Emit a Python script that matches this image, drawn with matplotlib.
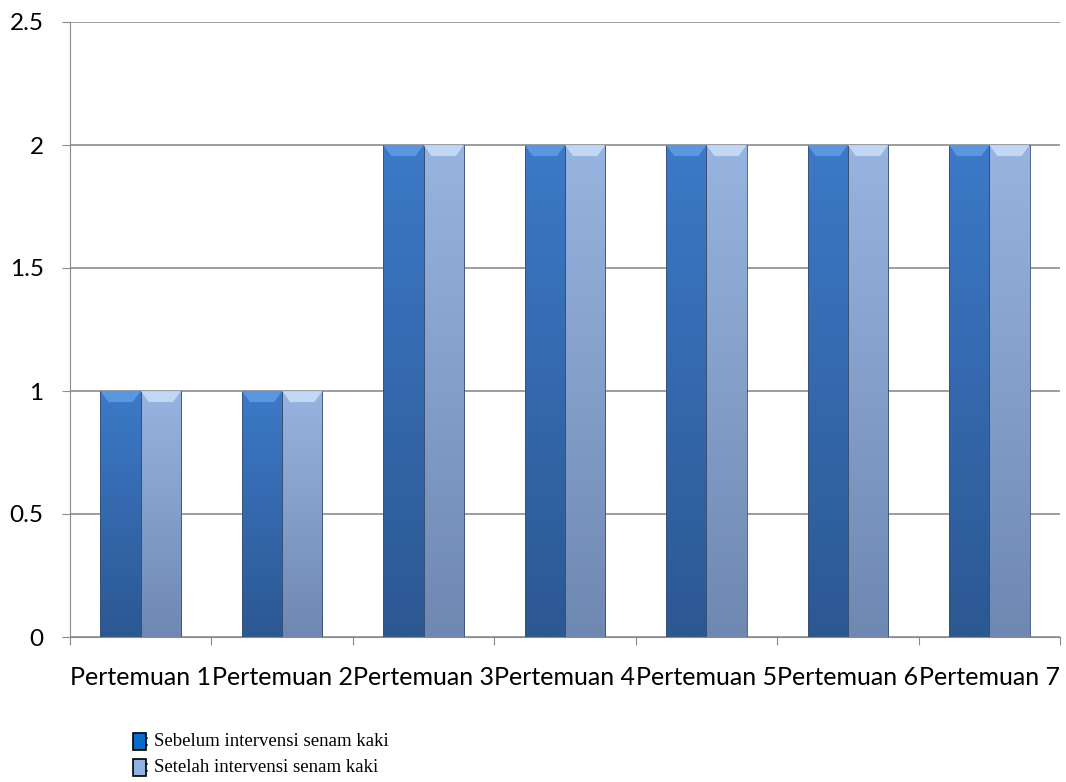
import numpy as np
import matplotlib.pyplot as plt
from matplotlib.patches import Rectangle, Polygon
from matplotlib.colors import LinearSegmentedColormap

categories = ["Pertemuan 1", "Pertemuan 2", "Pertemuan 3", "Pertemuan 4",
              "Pertemuan 5", "Pertemuan 6", "Pertemuan 7"]
sebelum = [1, 1, 2, 2, 2, 2, 2]
setelah = [1, 1, 2, 2, 2, 2, 2]
legend_labels = [": Sebelum intervensi senam kaki", ": Setelah intervensi senam kaki"]

fig = plt.figure(figsize=(10.66, 7.82), dpi=100)
ax = fig.add_axes([70/1066, 1-637/782, (1060-70)/1066, (637-22)/782])

x = np.arange(len(categories))
w = 0.285

# top colour, bottom colour, bevel colour
styles = [("#3C79C8", "#2C5892", "#5F9BE2"),
          ("#97B4E0", "#6E88B2", "#C8DCF6")]

def grad_bar(xc, h, c_top, c_bot, c_bev):
    cmap = LinearSegmentedColormap.from_list("g", [c_bot, c_top])
    rect = Rectangle((xc - w/2, 0), w, h, facecolor="none",
                     edgecolor="#3a4f70", linewidth=0.6, zorder=3)
    ax.add_patch(rect)
    grad = np.linspace(0, 1, 256).reshape(-1, 1)
    im = ax.imshow(grad, extent=(xc - w/2, xc + w/2, 0, h), origin="lower",
                   cmap=cmap, aspect="auto", zorder=2)
    im.set_clip_path(rect)
    # bevel on top
    d = 0.045
    bev = Polygon([(xc - w/2, h), (xc + w/2, h), (xc + w/2 - w*0.2, h - d),
                   (xc - w/2 + w*0.2, h - d)], closed=True,
                  facecolor=c_bev, edgecolor="none", alpha=0.9, zorder=3)
    ax.add_patch(bev)

for i in range(len(categories)):
    grad_bar(x[i] - w/2, sebelum[i], *styles[0])
    grad_bar(x[i] + w/2, setelah[i], *styles[1])

ax.set_xlim(-0.5, len(categories) - 0.5)
ax.set_ylim(0, 2.5)
ax.set_yticks([0, 0.5, 1, 1.5, 2, 2.5])
ax.set_yticklabels(["0", "0.5", "1", "1.5", "2", "2.5"])
ax.yaxis.grid(True, color="#8c8c8c", linewidth=1.2)
ax.set_axisbelow(True)
ax.set_xticks(np.arange(len(categories) + 1) - 0.5, minor=False)
ax.set_xticklabels([])
ax.set_xticks(x, minor=True)
ax.set_xticklabels(categories, minor=True, fontsize=18, family="Lato")
ax.tick_params(axis="x", which="minor", length=0, pad=21)
ax.tick_params(axis="x", which="major", length=6, color="#8c8c8c")
ax.tick_params(axis="y", length=6, color="#8c8c8c", labelsize=17.5, pad=13)
for lab in ax.get_yticklabels():
    lab.set_family("Lato")
for s in ["top", "right"]:
    ax.spines[s].set_visible(False)
for s in ["left", "bottom"]:
    ax.spines[s].set_color("#8c8c8c")

# legend below chart
colors = ["#0A6BC8", "#8EB3E3"]
for k, (lab, col) in enumerate(zip(legend_labels, colors)):
    y = 1 - (741 + k*26)/782
    fig.patches.append(Rectangle((133/1066, y - 8.5/782), 13/1066, 17/782,
                                 transform=fig.transFigure, facecolor=col,
                                 edgecolor="black", linewidth=1.2))
    fig.text(144/1066, y, lab, fontsize=13.5, family="Liberation Serif",
             va="center", ha="left")

fig.savefig("out.png", dpi=100)
